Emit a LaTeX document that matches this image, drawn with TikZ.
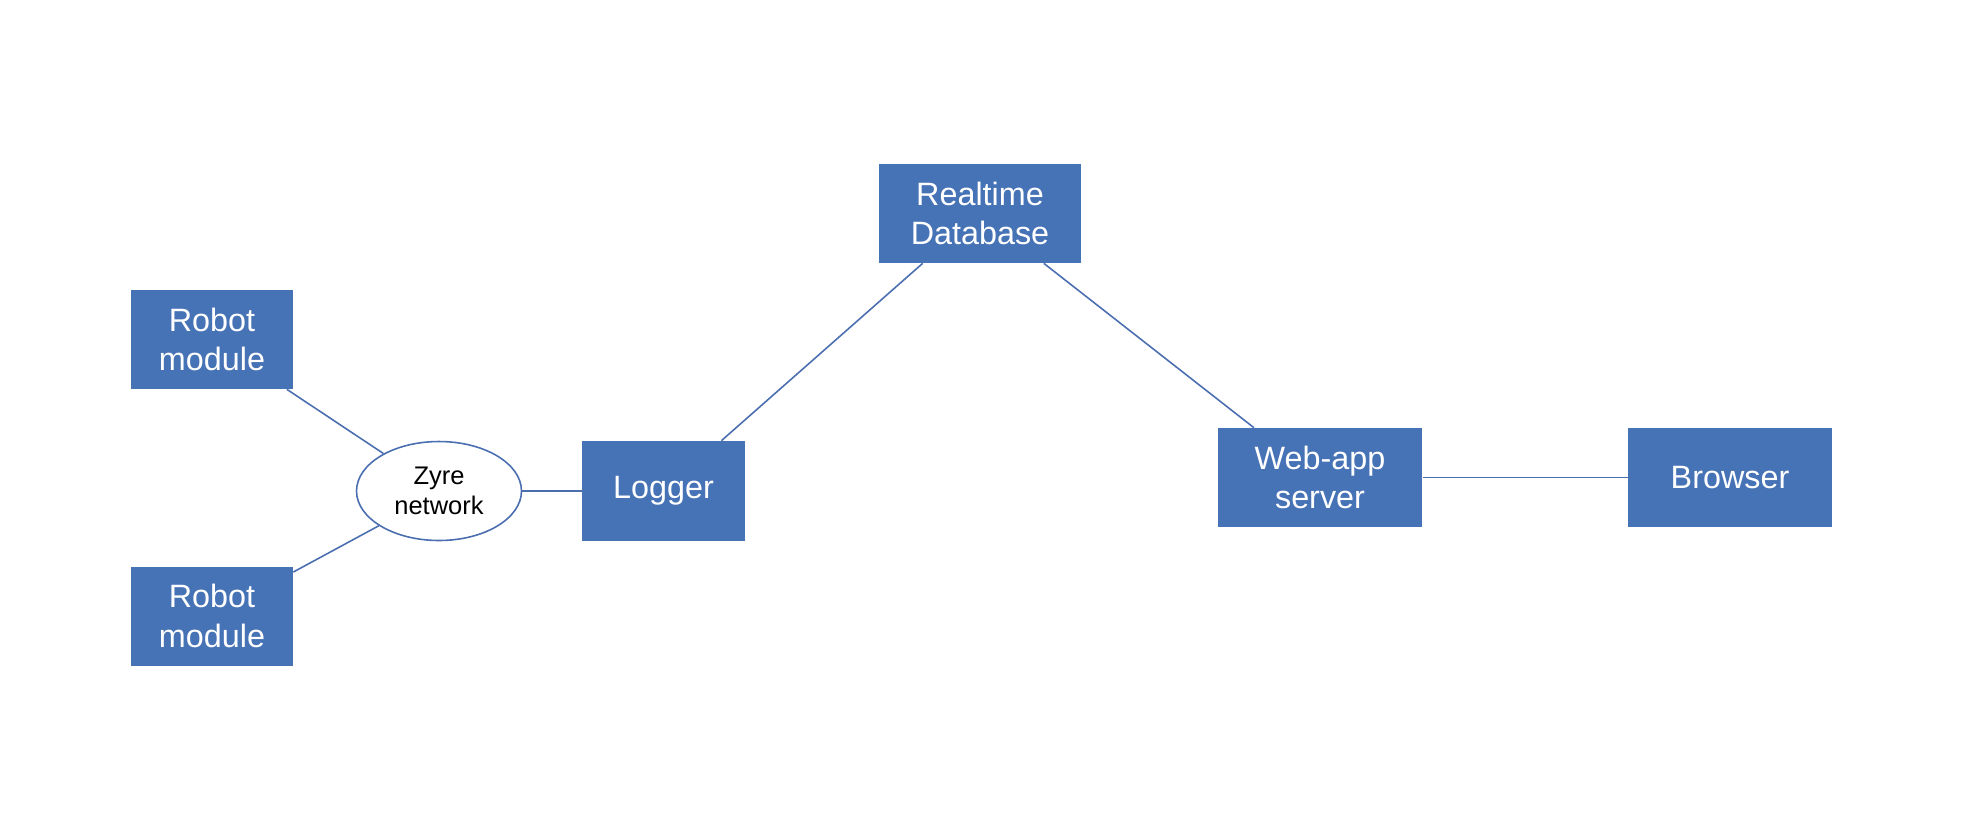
\documentclass[tikz,border=0pt]{standalone}
\usepackage{fontspec}
\setmainfont{Liberation Sans}
\usepackage{xcolor}
\usepackage{tikz}
\usetikzlibrary{shapes.geometric}
\definecolor{ZBlue}{HTML}{4672B6}
\definecolor{ZLine}{HTML}{4A6EB0}

\begin{document}
\begin{tikzpicture}[x=0.02cm, y=-0.02cm,
  block/.style={fill=ZBlue, draw=none, text=white, align=center, inner sep=2pt,
    minimum height=1.98cm, font=\fontsize{18.4}{22.4}\selectfont},
  hub/.style={ellipse, draw=ZLine, line width=0.9pt, fill=white, align=center,
    minimum width=3.3cm, minimum height=1.98cm, inner sep=1pt,
    font=\fontsize{14.5}{17}\selectfont},
  link/.style={draw=ZLine, line width=0.9pt},
]
  \useasboundingbox (0,0) rectangle (1964,833);

  \node[block, minimum width=3.24cm] (robotA) at (212,339.5) {Robot\\module};
  \node[block, minimum width=3.24cm] (robotB) at (212,616) {Robot\\module};
  \node[hub] (zyre) at (439,491) {Zyre\\network};
  \node[block, minimum width=3.26cm, minimum height=2.0cm] (logger) at (663.5,491) {Logger};
  \node[block, minimum width=4.04cm] (rtdb) at (980,213.5) {Realtime\\Database};
  \node[block, minimum width=4.1cm] (webapp) at (1320,477.5) {Web-app\\server};
  \node[block, minimum width=4.08cm] (browser) at (1730,477.5) {Browser};

  \draw[link] (robotA) -- (zyre.146);
  \draw[link] (robotB) -- (zyre.210);
  \draw[link] (zyre) -- (logger);
  \draw[link] (logger.41.5) -- (rtdb.221.5);
  \draw[link] (rtdb.-38) -- (webapp.143);
  \draw[link] (webapp) -- (browser);
\end{tikzpicture}
\end{document}
